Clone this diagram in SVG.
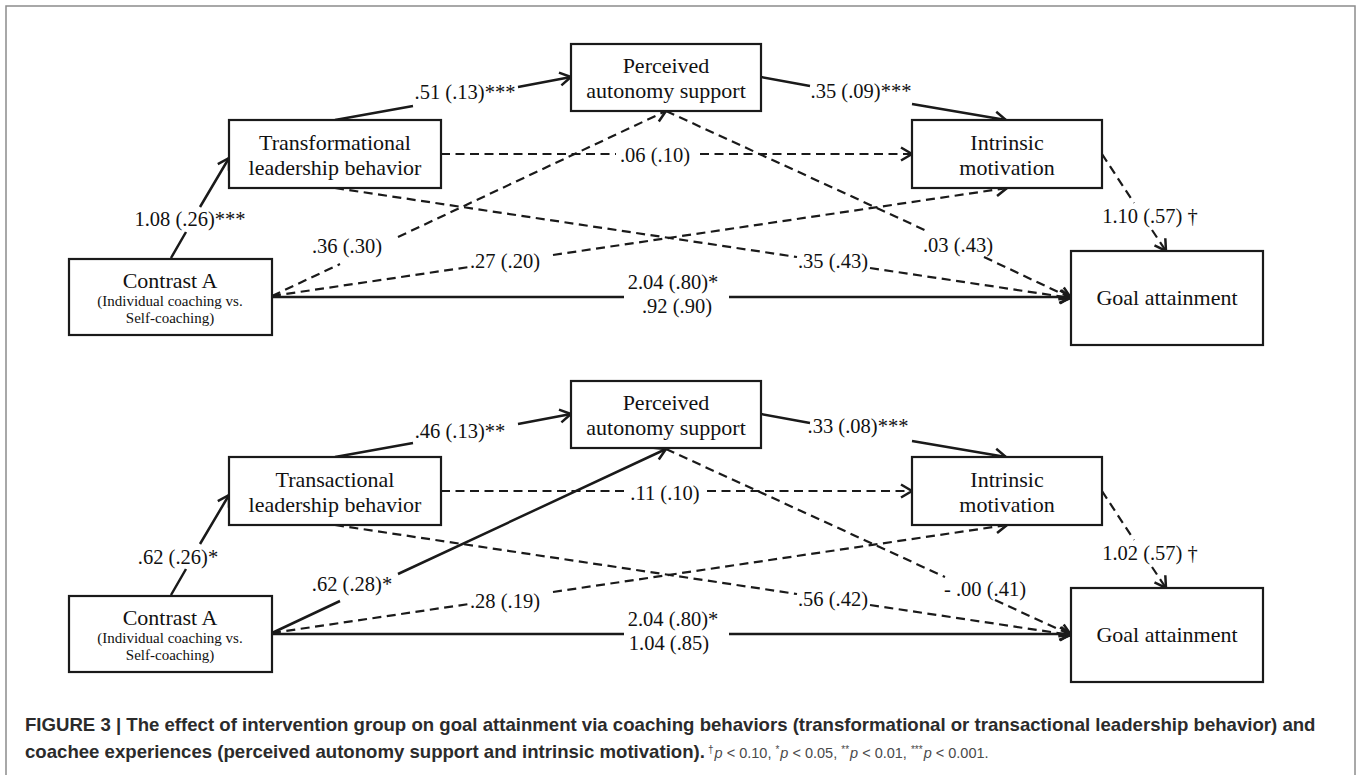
<svg xmlns="http://www.w3.org/2000/svg" width="1357" height="775" viewBox="0 0 1357 775">
<style>
.box{fill:#fff;stroke:#1a1a1a;stroke-width:2.2}
.nt{font-family:"Liberation Serif","Times New Roman",serif;font-size:22px;fill:#111;text-anchor:middle}
.st{font-family:"Liberation Serif","Times New Roman",serif;font-size:15px;fill:#111;text-anchor:middle}
.lb{font-family:"Liberation Serif","Times New Roman",serif;font-size:20.5px;fill:#111;text-anchor:middle}
.sol{fill:none;stroke:#1a1a1a;stroke-width:2.5}
.das{fill:none;stroke:#1a1a1a;stroke-width:2.2;stroke-dasharray:9 5.5}
.cap{font-family:"Liberation Sans",Arial,sans-serif;font-size:18.6px;fill:#2b2b2b;font-weight:bold}
.capr{font-family:"Liberation Sans",Arial,sans-serif;font-size:14.5px;fill:#4a4a4a}
.sup{font-size:10px}
</style>
<defs>
<marker id="ah" markerUnits="userSpaceOnUse" viewBox="-14 -9 16 18" markerWidth="16" markerHeight="18" refX="0" refY="0" orient="auto">
<path d="M-11,-6.5 L0,0 L-11,6.5" fill="none" stroke="#1a1a1a" stroke-width="2.5" stroke-dasharray="none"/>
</marker>
</defs>
<rect x="6" y="6" width="1349" height="800" fill="none" stroke="#8c8c8c" stroke-width="1.5"/>

<g id="connectors">
<!-- top panel -->
<path class="sol" d="M171,258 L186,232 M200,207 L229,158" marker-end="url(#ah)"/>
<path class="sol" d="M335,120 L413,106 M518,87 L571,77" marker-end="url(#ah)"/>
<path class="sol" d="M761,77 L810,86 M912,104 L1006,120" marker-end="url(#ah)"/>
<path class="das" d="M441,154 L616,154 M700,154 L912,154" marker-end="url(#ah)"/>
<path class="das" d="M335,188 L797,257 M870,268 L1071,298" marker-end="url(#ah)"/>
<path class="das" d="M272,296 L340,264 M398,237 L666,111" marker-end="url(#ah)"/>
<path class="das" d="M272,296 L469,267 M553,255 L1007,188" marker-end="url(#ah)"/>
<path class="das" d="M666,111 L929,232 M984,257 L1071,298" marker-end="url(#ah)"/>
<path class="das" d="M1102,154 L1134,203 M1152,230 L1166,251" marker-end="url(#ah)"/>
<path class="sol" d="M272,297 L624,297 M729,297 L1071,297" marker-end="url(#ah)"/>
<!-- bottom panel -->
<path class="sol" d="M171,595 L186,569 M200,544 L229,495" marker-end="url(#ah)"/>
<path class="sol" d="M335,457 L413,443 M518,424 L571,414" marker-end="url(#ah)"/>
<path class="sol" d="M761,414 L810,423 M912,441 L1006,457" marker-end="url(#ah)"/>
<path class="das" d="M441,491 L625,491 M707,491 L912,491" marker-end="url(#ah)"/>
<path class="das" d="M335,525 L797,594 M870,605 L1071,635" marker-end="url(#ah)"/>
<path class="sol" d="M272,633 L340,601 M398,574 L666,449" marker-end="url(#ah)"/>
<path class="das" d="M272,633 L469,604 M553,592 L1007,525" marker-end="url(#ah)"/>
<path class="das" d="M666,449 L945,577 M995,600 L1071,635" marker-end="url(#ah)"/>
<path class="das" d="M1102,491 L1134,540 M1152,567 L1166,588" marker-end="url(#ah)"/>
<path class="sol" d="M272,634 L624,634 M729,634 L1071,634" marker-end="url(#ah)"/>
</g>

<g id="labels">
<text class="lb" x="190" y="226">1.08 (.26)***</text>
<text class="lb" x="465" y="99">.51 (.13)***</text>
<text class="lb" x="861" y="98">.35 (.09)***</text>
<text class="lb" x="655" y="162">.06 (.10)</text>
<text class="lb" x="833" y="268">.35 (.43)</text>
<text class="lb" x="347" y="253">.36 (.30)</text>
<text class="lb" x="505" y="268">.27 (.20)</text>
<text class="lb" x="958" y="252">.03 (.43)</text>
<text class="lb" x="1150" y="223">1.10 (.57) †</text>
<text class="lb" x="673" y="289">2.04 (.80)*</text>
<text class="lb" x="677" y="313">.92 (.90)</text>

<text class="lb" x="178" y="564">.62 (.26)*</text>
<text class="lb" x="460" y="438">.46 (.13)**</text>
<text class="lb" x="858" y="433">.33 (.08)***</text>
<text class="lb" x="665" y="500">.11 (.10)</text>
<text class="lb" x="833" y="606">.56 (.42)</text>
<text class="lb" x="352" y="591">.62 (.28)*</text>
<text class="lb" x="505" y="608">.28 (.19)</text>
<text class="lb" x="985" y="596">- .00 (.41)</text>
<text class="lb" x="1150" y="560">1.02 (.57) †</text>
<text class="lb" x="673" y="626">2.04 (.80)*</text>
<text class="lb" x="669" y="650">1.04 (.85)</text>
</g>

<g id="contrastA-top">
<rect class="box" x="69" y="259" width="203" height="76"/>
<text class="nt" x="170" y="288">Contrast A</text>
<text class="st" x="170" y="306">(Individual coaching vs.</text>
<text class="st" x="170" y="323">Self-coaching)</text>
</g>
<g id="transformational">
<rect class="box" x="229" y="120" width="212" height="68"/>
<text class="nt" x="335" y="150">Transformational</text>
<text class="nt" x="335" y="175">leadership behavior</text>
</g>
<g id="autonomy-top">
<rect class="box" x="571" y="44" width="190" height="67"/>
<text class="nt" x="666" y="73">Perceived</text>
<text class="nt" x="666" y="98">autonomy support</text>
</g>
<g id="intrinsic-top">
<rect class="box" x="912" y="120" width="190" height="68"/>
<text class="nt" x="1007" y="150">Intrinsic</text>
<text class="nt" x="1007" y="175">motivation</text>
</g>
<g id="goal-top">
<rect class="box" x="1071" y="251" width="192" height="94"/>
<text class="nt" x="1167" y="305">Goal attainment</text>
</g>

<g id="contrastA-bottom">
<rect class="box" x="69" y="596" width="203" height="76"/>
<text class="nt" x="170" y="625">Contrast A</text>
<text class="st" x="170" y="643">(Individual coaching vs.</text>
<text class="st" x="170" y="660">Self-coaching)</text>
</g>
<g id="transactional">
<rect class="box" x="229" y="457" width="212" height="68"/>
<text class="nt" x="335" y="487">Transactional</text>
<text class="nt" x="335" y="512">leadership behavior</text>
</g>
<g id="autonomy-bottom">
<rect class="box" x="571" y="381" width="190" height="67"/>
<text class="nt" x="666" y="410">Perceived</text>
<text class="nt" x="666" y="435">autonomy support</text>
</g>
<g id="intrinsic-bottom">
<rect class="box" x="912" y="457" width="190" height="68"/>
<text class="nt" x="1007" y="487">Intrinsic</text>
<text class="nt" x="1007" y="512">motivation</text>
</g>
<g id="goal-bottom">
<rect class="box" x="1071" y="588" width="192" height="94"/>
<text class="nt" x="1167" y="642">Goal attainment</text>
</g>

<g id="caption">
<text class="cap" x="25" y="731">FIGURE 3 | The effect of intervention group on goal attainment via coaching behaviors (transformational or transactional leadership behavior) and</text>
<text class="cap" x="25" y="758">coachee experiences (perceived autonomy support and intrinsic motivation).</text>
<text class="capr" x="708" y="758"><tspan class="sup" dy="-5">†</tspan><tspan font-style="italic" dx="1" dy="5">p</tspan> &lt; 0.10, <tspan class="sup" dy="-5">*</tspan><tspan font-style="italic" dx="1" dy="5">p</tspan> &lt; 0.05, <tspan class="sup" dy="-5">**</tspan><tspan font-style="italic" dx="1" dy="5">p</tspan> &lt; 0.01, <tspan class="sup" dy="-5">***</tspan><tspan font-style="italic" dx="1" dy="5">p</tspan> &lt; 0.001.</text>
</g>
</svg>
